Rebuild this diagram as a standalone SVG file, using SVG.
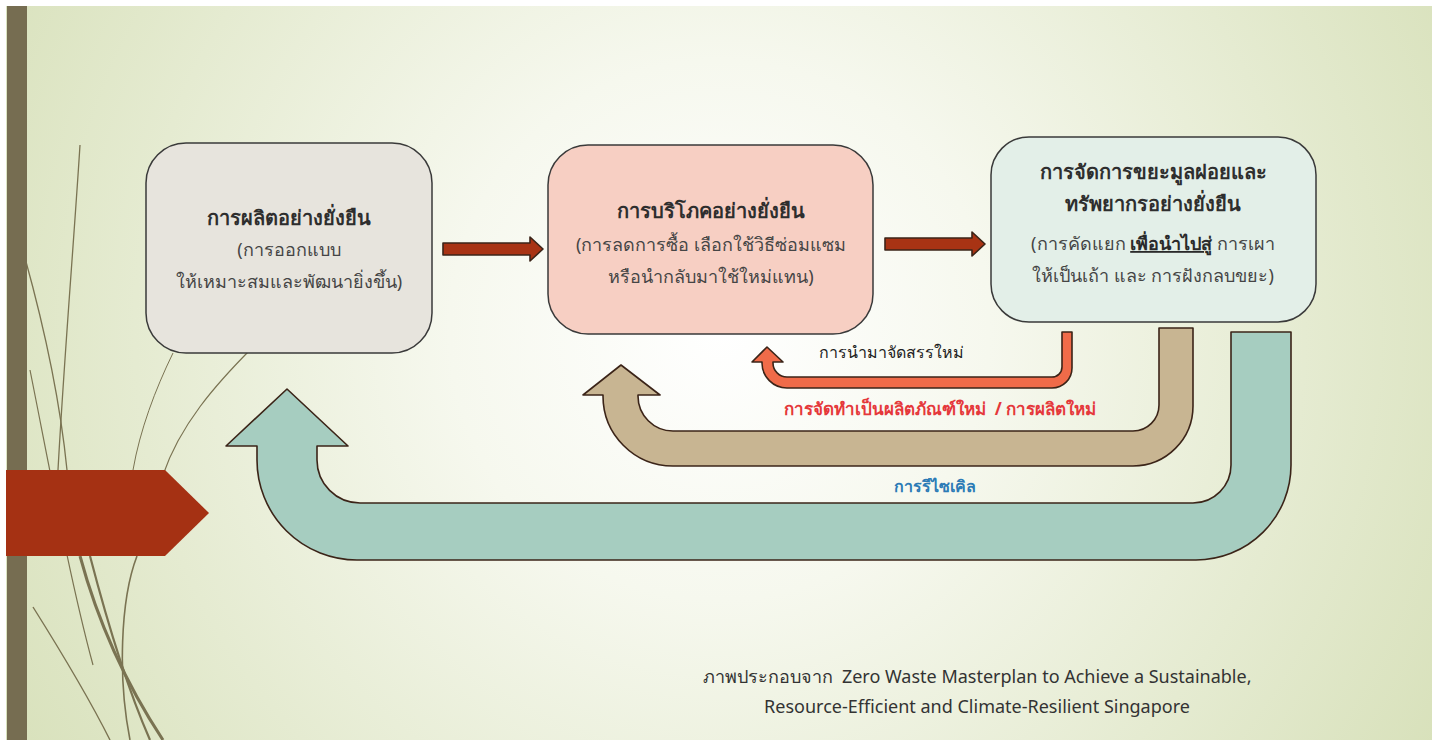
<svg xmlns="http://www.w3.org/2000/svg" width="1438" height="740" viewBox="0 0 1438 740">
<style>
text{font-family:"Noto Sans","DejaVu Sans",sans-serif;text-anchor:middle;}
.box{stroke:#3a3a3a;stroke-width:1.5;}
.t{font-size:20px;font-weight:bold;fill:#2e2e2e;}
.s{font-size:18px;fill:#454545;}
.deco{fill:none;stroke:#7a7352;}
.flow{stroke:#3b2418;stroke-width:1.6;stroke-linejoin:round;}
.cap{font-size:18px;fill:#333;}
</style>
<defs>
<radialGradient id="bg" cx="720" cy="330" r="900" gradientUnits="userSpaceOnUse">
<stop offset="0" stop-color="#ffffff"/>
<stop offset="0.3" stop-color="#f6f8ee"/>
<stop offset="1" stop-color="#d4deb4"/>
</radialGradient>
</defs>
<rect width="1438" height="740" fill="#ffffff"/>
<rect x="6" y="6" width="1426" height="734" fill="url(#bg)"/>
<g id="decor">
<path class="deco" stroke-width="1.3" d="M80 145 C74 240 64 360 58 470"/>
<path class="deco" stroke-width="1.3" d="M25 258 C45 330 60 400 67 470"/>
<path class="deco" stroke="#b3b39a" stroke-width="1.2" d="M30 370 C50 470 70 580 93 665"/>
<path class="deco" stroke="#9a9a90" stroke-width="1" d="M173 353 C155 390 140 430 133 470"/>
<path class="deco" stroke="#8a8468" stroke-width="1.2" d="M253 347 C215 385 180 425 163 475"/>
<path class="deco" stroke-width="1.6" d="M137 556 C120 600 118 680 130 740"/>
<path class="deco" stroke-width="3" d="M80 556 C100 630 130 690 163 740"/>
<path class="deco" stroke-width="2.2" d="M90 556 C108 625 128 690 150 740"/>
<path class="deco" stroke="#a9a48c" stroke-width="1.4" d="M33 607 C60 650 90 700 110 740"/>
</g>
<rect x="7" y="6" width="20" height="734" fill="#766d51"/>
<polygon id="tab" points="6,470 165,470 209,513 165,556 6,556" fill="#a53113"/>
<g id="connectors">
<path id="c1" class="flow" fill="#a83314" d="M443 243 L530 243 L530 237 L543 249 L530 261 L530 255 L443 255 Z"/>
<path id="c2" class="flow" fill="#a83314" d="M885 238 L972 238 L972 232 L985 244 L972 256 L972 250 L885 250 Z"/>
<path id="c3" class="flow" fill="#a6cdc0" d="M1231 332 L1291 332 L1291 465 A95 95 0 0 1 1196 560 L357 560 A100 100 0 0 1 257 460 L257 446 L226 446 L287 389 L348 446 L317 446 L317 460 A43 43 0 0 0 360 503 L1193 503 A38 38 0 0 0 1231 465 Z"/>
<path id="c4" class="flow" fill="#c8b592" d="M1159 328 L1193 328 L1193 406 A60 60 0 0 1 1133 466 L673 466 A70 70 0 0 1 603 396 L603 395 L583 395 L621 365 L660 395 L638 395 L638 396 A35 35 0 0 0 673 431 L1133 431 A26 26 0 0 0 1159 405 Z"/>
<path id="c5" class="flow" fill="#f06b49" d="M1062 332 L1072 332 L1072 368 A20 20 0 0 1 1052 388 L787 388 A25 25 0 0 1 762 363 L762 362 L752 362 L767 347 L783 362 L773 362 L773 363 A14 14 0 0 0 787 377 L1052 377 A10 10 0 0 0 1062 367 Z"/>
</g>
<g id="box1">
<rect class="box" x="146" y="143" width="286" height="210" rx="40" fill="#e7e4dd"/>
<text class="t" x="289" y="225">การผลิตอย่างยั่งยืน</text>
<text class="s" x="289" y="256">(การออกแบบ</text>
<text class="s" x="289" y="288">ให้เหมาะสมและพัฒนายิ่งขึ้น)</text>
</g>
<g id="box2">
<rect class="box" x="548" y="145" width="325" height="189" rx="40" fill="#f7cfc3"/>
<text class="t" x="711" y="218">การบริโภคอย่างยั่งยืน</text>
<text class="s" x="711" y="251">(การลดการซื้อ เลือกใช้วิธีซ่อมแซม</text>
<text class="s" x="711" y="283">หรือนำกลับมาใช้ใหม่แทน)</text>
</g>
<g id="box3">
<rect class="box" x="991" y="137" width="325" height="185" rx="38" fill="#e3efe8"/>
<text class="t" x="1153" y="179">การจัดการขยะมูลฝอยและ</text>
<text class="t" x="1153" y="211">ทรัพยากรอย่างยั่งยืน</text>
<text class="s" x="1153" y="250">(การคัดแยก <tspan font-weight="bold" fill="#2a2a2a" text-decoration="underline">เพื่อนำไปสู่</tspan> การเผา</text>
<text class="s" x="1153" y="282">ให้เป็นเถ้า และ การฝังกลบขยะ)</text>
</g>
<g id="labels">
<text x="891" y="358" font-size="16" font-weight="500" fill="#222">การนำมาจัดสรรใหม่</text>
<text x="940" y="415" font-size="17" font-weight="bold" fill="#e5383b" xml:space="preserve">การจัดทำเป็นผลิตภัณฑ์ใหม่  / การผลิตใหม่</text>
<text x="935" y="492" font-size="16" font-weight="600" fill="#2c7bb6">การรีไซเคิล</text>
</g>
<g id="caption">
<text class="cap" x="977" y="683" xml:space="preserve">ภาพประกอบจาก  Zero Waste Masterplan to Achieve a Sustainable,</text>
<text class="cap" x="977" y="713">Resource-Efficient and Climate-Resilient Singapore</text>
</g>
</svg>
